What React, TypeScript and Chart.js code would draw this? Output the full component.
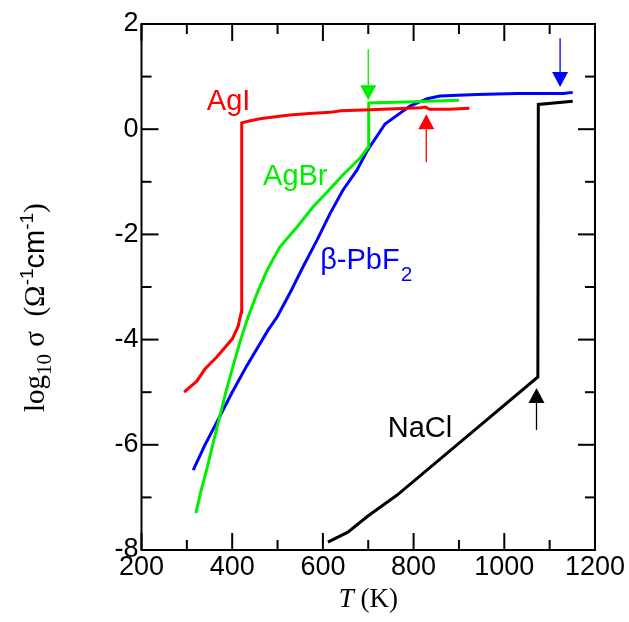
import React, { useEffect, useRef } from "react";
import { Chart, registerables } from "chart.js";

Chart.register(...registerables);

// ---- data (T in K, log10 sigma) ----
const agiT = [294, 322, 340, 366, 400, 413, 420, 421, 440, 461, 500, 527, 570, 616, 640, 704, 760, 815, 826, 835, 880, 923];
const agiV = [-5.0, -4.79, -4.56, -4.33, -3.99, -3.75, -3.48, 0.12, 0.16, 0.2, 0.24, 0.27, 0.3, 0.32, 0.35, 0.37, 0.39, 0.41, 0.42, 0.38, 0.38, 0.4];

const agbrT = [320, 332, 345, 357, 369, 385, 402, 418, 435, 455, 477, 505, 543, 578, 609, 644, 682, 700, 701, 800, 900];
const agbrV = [-7.3, -6.85, -6.43, -6.0, -5.59, -5.03, -4.5, -4.02, -3.57, -3.12, -2.68, -2.24, -1.86, -1.48, -1.2, -0.87, -0.55, -0.34, 0.5, 0.52, 0.55];

const pbf2T = [314, 340, 366, 400, 432, 479, 499, 527, 556, 587, 616, 644, 675, 697, 737, 792, 830, 858, 940, 1028, 1130, 1151];
const pbf2V = [-6.48, -6.0, -5.57, -5.0, -4.5, -3.82, -3.57, -3.12, -2.62, -2.11, -1.6, -1.16, -0.78, -0.42, 0.1, 0.44, 0.58, 0.63, 0.66, 0.68, 0.68, 0.7];

const naclT = [611, 655, 700, 763, 918, 1074, 1075, 1151];
const naclV = [-7.85, -7.66, -7.35, -6.96, -5.84, -4.71, 0.47, 0.53];

const seriesNames = ["AgI", "AgBr", "β-PbF2", "NaCl"];
const seriesColors = ["#ff0000", "#00ee00", "#0000ff", "#000000"];

// label anchors (data coords)
const labelT = [344, 468, 594, 743];
const labelV = [0.36, -1.06, -2.66, -5.86];

// transition arrows (data coords)
const arrowT = [828, 700, 1123, 1071];
const arrowTail = [-0.63, 1.52, 1.73, -5.72];
const arrowTip = [0.285, 0.55, 0.8, -4.92];
const arrowColors = ["#ff0000", "#00ee00", "#0000ff", "#000000"];

// axes
const xMin = 200, xMax = 1200, xMajor = 200, xMinor = 100;
const yMin = -8, yMax = 2, yMajor = 2, yMinor = 1;

const SANS = "'Liberation Sans', Arial, sans-serif";
const SERIF = "'Liberation Serif', 'Times New Roman', serif";

function zip(t: number[], v: number[]) {
  return t.map((x, i) => ({ x, y: v[i] }));
}

const decor = {
  id: "decor",
  afterDatasetsDraw(chart: any) {
    const { ctx, chartArea: a, scales } = chart;
    const xs = scales.x, ys = scales.y;
    ctx.save();
    ctx.strokeStyle = "#000";
    ctx.lineWidth = 2;
    ctx.lineCap = "butt";
    ctx.strokeRect(a.left, a.top, a.right - a.left, a.bottom - a.top);
    const seg = (x1: number, y1: number, x2: number, y2: number) => {
      ctx.beginPath();
      ctx.moveTo(x1, y1);
      ctx.lineTo(x2, y2);
      ctx.stroke();
    };
    for (let t = xMin; t <= xMax; t += xMinor) {
      const px = xs.getPixelForValue(t);
      const len = (t - xMin) % xMajor === 0 ? 17 : 10;
      seg(px, a.bottom, px, a.bottom - len);
      seg(px, a.top, px, a.top + len);
    }
    for (let v = yMin; v <= yMax; v += yMinor) {
      const py = ys.getPixelForValue(v);
      const len = (v - yMin) % yMajor === 0 ? 17 : 10;
      seg(a.left, py, a.left + len, py);
      seg(a.right, py, a.right - len, py);
    }

    // arrows
    for (let i = 0; i < arrowT.length; i++) {
      const px = xs.getPixelForValue(arrowT[i]);
      const pTail = ys.getPixelForValue(arrowTail[i]);
      const pTip = ys.getPixelForValue(arrowTip[i]);
      const dir = pTip > pTail ? 1 : -1;
      const headH = 15, headW = 8;
      ctx.strokeStyle = arrowColors[i];
      ctx.fillStyle = arrowColors[i];
      ctx.lineWidth = 1.3;
      seg(px, pTail, px, pTip - dir * headH);
      ctx.beginPath();
      ctx.moveTo(px, pTip);
      ctx.lineTo(px - headW, pTip - dir * headH);
      ctx.lineTo(px + headW, pTip - dir * headH);
      ctx.closePath();
      ctx.fill();
    }

    // series labels
    ctx.textBaseline = "alphabetic";
    ctx.textAlign = "left";
    for (let i = 0; i < seriesNames.length; i++) {
      const px = xs.getPixelForValue(labelT[i]);
      const py = ys.getPixelForValue(labelV[i]);
      ctx.fillStyle = seriesColors[i];
      const name = seriesNames[i];
      if (name.endsWith("2")) {
        const main = name.slice(0, -1);
        ctx.font = `29px ${SANS}`;
        ctx.fillText(main, px, py);
        const w = ctx.measureText(main).width;
        ctx.font = `21px ${SANS}`;
        ctx.fillText("2", px + w + 1, py + 12);
      } else {
        ctx.font = `29px ${SANS}`;
        ctx.fillText(name, px, py);
      }
    }

    // x title
    ctx.fillStyle = "#000";
    ctx.font = `italic 27px ${SERIF}`;
    const tW = ctx.measureText("T").width;
    ctx.font = `27px ${SERIF}`;
    const kW = ctx.measureText(" (K)").width;
    const cx = (a.left + a.right) / 2;
    const startX = cx - (tW + kW) / 2;
    ctx.font = `italic 27px ${SERIF}`;
    ctx.fillText("T", startX, 607);
    ctx.font = `27px ${SERIF}`;
    ctx.fillText(" (K)", startX + tW, 607);

    // y title (rotated)
    const runs = [
      { s: "log", f: `29px ${SERIF}`, dy: 0 },
      { s: "10", f: `21px ${SERIF}`, dy: 7 },
      { s: " σ  (", f: `29px ${SERIF}`, dy: 0 },
      { s: "Ω", f: `29px ${SERIF}`, dy: 0 },
      { s: "-1", f: `19px ${SANS}`, dy: -11 },
      { s: "cm", f: `29px ${SANS}`, dy: 0 },
      { s: "-1", f: `19px ${SANS}`, dy: -11 },
      { s: ")", f: `29px ${SERIF}`, dy: 0 },
    ];
    ctx.translate(44, 412);
    ctx.rotate(-Math.PI / 2);
    let cur = 0;
    for (const r of runs) {
      ctx.font = r.f;
      ctx.fillText(r.s, cur, r.dy);
      cur += ctx.measureText(r.s).width;
    }
    ctx.restore();
  },
};

export default function App() {
  const ref = useRef<HTMLCanvasElement | null>(null);
  useEffect(() => {
    if (!ref.current) return;
    const sets = [
      zip(agiT, agiV),
      zip(agbrT, agbrV),
      zip(pbf2T, pbf2V),
      zip(naclT, naclV),
    ];
    const chart = new Chart(ref.current, {
      type: "line",
      data: {
        datasets: sets.map((d, i) => ({
          label: seriesNames[i],
          data: d,
          borderColor: seriesColors[i],
          backgroundColor: seriesColors[i],
          borderWidth: 3,
          pointRadius: 0,
          tension: 0,
          fill: false,
        })),
      },
      options: {
        responsive: false,
        animation: false,
        layout: { padding: { top: 24, right: 34, left: 0, bottom: 0 } },
        plugins: { legend: { display: false }, tooltip: { enabled: false } },
        scales: {
          x: {
            type: "linear",
            min: xMin,
            max: xMax,
            grid: { display: false, drawTicks: false },
            border: { display: false },
            ticks: {
              stepSize: xMajor,
              autoSkip: false,
              maxRotation: 0,
              padding: 1,
              color: "#000",
              font: { family: SANS, size: 27 },
              callback: (v: any) => String(v),
            },
            afterFit: (s: any) => {
              s.height = 72;
            },
          },
          y: {
            type: "linear",
            min: yMin,
            max: yMax,
            grid: { display: false, drawTicks: false },
            border: { display: false },
            ticks: {
              stepSize: yMajor,
              padding: 3,
              color: "#000",
              font: { family: SANS, size: 27 },
              callback: (v: any) => String(v),
            },
            afterFit: (s: any) => {
              s.width = 141.5;
            },
          },
        },
      },
      plugins: [decor],
    } as any);
    return () => chart.destroy();
  }, []);
  return (
    <div style={{ position: "fixed", left: 0, top: 0, width: 629, height: 622, background: "#fff" }}>
      <canvas ref={ref} width={629} height={622} />
    </div>
  );
}
